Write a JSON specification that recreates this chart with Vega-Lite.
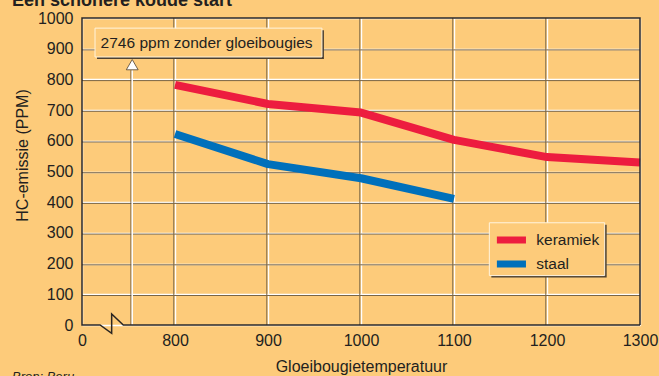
{
  "$schema": "https://vega.github.io/schema/vega-lite/v6.json",
  "width": 558,
  "height": 307,
  "autosize": {"type": "none"},
  "padding": {"left": 82, "top": 18, "right": 19, "bottom": 51},
  "background": "#fdcb7a",
  "config": {
    "view": {"stroke": null},
    "font": "Liberation Sans",
    "axis": {
      "domain": false, "ticks": false,
      "grid": true, "gridColor": "#ffffff", "gridWidth": 1.4, "gridOpacity": 1,
      "labelFontSize": 16, "labelColor": "#231f20", "labelFlush": false,
      "titleFontSize": 16, "titleFontWeight": "normal", "titleColor": "#231f20"
    },
    "axisY": {
      "tickCount": 10, "format": "d", "labelPadding": 9,
      "titleX": -60, "titleY": 137, "titleAlign": "center", "titleBaseline": "middle", "titleAngle": -90
    },
    "axisX": {
      "labelPadding": 7, "titlePadding": 10
    }
  },
  "data": {"values": [{}]},
  "datasets": {
    "emissie": [
      {"t": 800, "v": 782, "type": "keramiek"},
      {"t": 900, "v": 720, "type": "keramiek"},
      {"t": 1000, "v": 692, "type": "keramiek"},
      {"t": 1100, "v": 603, "type": "keramiek"},
      {"t": 1200, "v": 547, "type": "keramiek"},
      {"t": 1300, "v": 529, "type": "keramiek"},
      {"t": 800, "v": 622, "type": "staal"},
      {"t": 900, "v": 524, "type": "staal"},
      {"t": 1000, "v": 478, "type": "staal"},
      {"t": 1100, "v": 411, "type": "staal"}
    ],
    "vgrid": [{"t": 800}, {"t": 900}, {"t": 1000}, {"t": 1100}, {"t": 1200}],
    "hgrid": [{"v": 100}, {"v": 200}, {"v": 300}, {"v": 400}, {"v": 500}, {"v": 600}, {"v": 700}, {"v": 800}, {"v": 900}],
    "frame": [
      {"t": 1300, "v": 0, "i": 0},
      {"t": 1300, "v": 1000, "i": 1},
      {"t": 700, "v": 1000, "i": 2},
      {"t": 700, "v": 0, "i": 3},
      {"t": 719.4, "v": 0, "i": 4},
      {"t": 731.9, "v": -27, "i": 5},
      {"t": 731.9, "v": 35.8, "i": 6},
      {"t": 744.4, "v": 0, "i": 7},
      {"t": 1300, "v": 0, "i": 8}
    ]
  },
  "layer": [
    {
      "data": {"name": "vgrid"},
      "mark": {"type": "rule", "color": "#7a6545", "strokeWidth": 1, "xOffset": -1.2},
      "encoding": {
        "x": {
          "field": "t", "type": "quantitative",
          "scale": {"domain": [700, 1300], "nice": false, "zero": false},
          "axis": {
            "values": [700, 800, 900, 1000, 1100, 1200, 1300],
            "labelExpr": "datum.value == 700 ? '0' : datum.label",
            "format": "d",
            "title": "Gloeibougietemperatuur"
          }
        }
      }
    },
    {
      "data": {"name": "hgrid"},
      "mark": {"type": "rule", "color": "#7a6545", "strokeWidth": 1, "yOffset": 1.2},
      "encoding": {
        "y": {
          "field": "v", "type": "quantitative",
          "scale": {"domain": [0, 1000], "nice": false, "zero": false},
          "axis": {"title": "HC-emissie (PPM)"}
        }
      }
    },
    {
      "mark": {"type": "rule", "color": "#5a4a34", "strokeWidth": 1, "xOffset": -1.2},
      "encoding": {
        "x": {"datum": 754},
        "y": {"datum": 0},
        "y2": {"datum": 830}
      }
    },
    {
      "mark": {"type": "rule", "color": "#ffffff", "strokeWidth": 1.5},
      "encoding": {
        "x": {"datum": 754},
        "y": {"datum": 0},
        "y2": {"datum": 830}
      }
    },
    {
      "mark": {"type": "point", "shape": "triangle-up", "filled": true, "fill": "#ffffff", "stroke": "#4d4030", "strokeWidth": 0.8, "size": 140, "opacity": 1},
      "encoding": {
        "x": {"datum": 754},
        "y": {"datum": 848}
      }
    },
    {
      "mark": {"type": "rect", "color": "#4d4030", "xOffset": 2, "x2Offset": 2, "yOffset": 2, "y2Offset": 2},
      "encoding": {
        "x": {"datum": 714},
        "x2": {"datum": 958},
        "y": {"datum": 967},
        "y2": {"datum": 873}
      }
    },
    {
      "mark": {"type": "rect", "fill": "#fdcb7a", "stroke": "#fff4de", "strokeWidth": 1, "opacity": 1},
      "encoding": {
        "x": {"datum": 714},
        "x2": {"datum": 958},
        "y": {"datum": 967},
        "y2": {"datum": 873}
      }
    },
    {
      "mark": {"type": "text", "text": "2746 ppm zonder gloeibougies", "align": "left", "baseline": "middle", "fontSize": 15.5, "color": "#231f20"},
      "encoding": {
        "x": {"datum": 720},
        "y": {"datum": 917}
      }
    },
    {
      "mark": {"type": "rect", "color": "#4d4030", "xOffset": 2, "x2Offset": 2, "yOffset": 2, "y2Offset": 2},
      "encoding": {
        "x": {"datum": 1138},
        "x2": {"datum": 1262},
        "y": {"datum": 333},
        "y2": {"datum": 161}
      }
    },
    {
      "mark": {"type": "rect", "fill": "#fdcb7a", "stroke": "#fff4de", "strokeWidth": 1, "opacity": 1},
      "encoding": {
        "x": {"datum": 1138},
        "x2": {"datum": 1262},
        "y": {"datum": 333},
        "y2": {"datum": 161}
      }
    },
    {
      "data": {"name": "emissie"},
      "mark": {"type": "line", "strokeWidth": 8, "strokeCap": "butt", "strokeJoin": "round"},
      "encoding": {
        "x": {"field": "t", "type": "quantitative"},
        "y": {"field": "v", "type": "quantitative"},
        "color": {
          "field": "type", "type": "nominal",
          "scale": {"domain": ["keramiek", "staal"], "range": ["#ed1c3f", "#0070bb"]},
          "legend": {
            "orient": "none", "legendX": 403, "legendY": 204,
            "title": null,
            "padding": 8, "rowPadding": -9,
            "symbolType": "M-1,0H3.75", "symbolSize": 150, "symbolStrokeWidth": 7,
            "labelFontSize": 15.5, "labelOffset": 23.3, "labelColor": "#231f20"
          }
        }
      }
    },
    {
      "data": {"name": "frame"},
      "mark": {"type": "line", "color": "#2b2622", "strokeWidth": 1.5, "strokeJoin": "miter"},
      "encoding": {
        "x": {"field": "t", "type": "quantitative"},
        "y": {"field": "v", "type": "quantitative"},
        "order": {"field": "i", "type": "quantitative"}
      }
    },
    {
      "mark": {"type": "text", "text": "Een schonere koude start", "align": "left", "baseline": "alphabetic", "fontSize": 18, "fontWeight": "bold", "color": "#231f20"},
      "encoding": {
        "x": {"datum": 624.7},
        "y": {"datum": 1038}
      }
    },
    {
      "mark": {"type": "text", "text": "Bron: Beru", "align": "left", "baseline": "alphabetic", "fontSize": 13, "fontStyle": "italic", "color": "#231f20"},
      "encoding": {
        "x": {"datum": 624.7},
        "y": {"datum": -181}
      }
    }
  ]
}
